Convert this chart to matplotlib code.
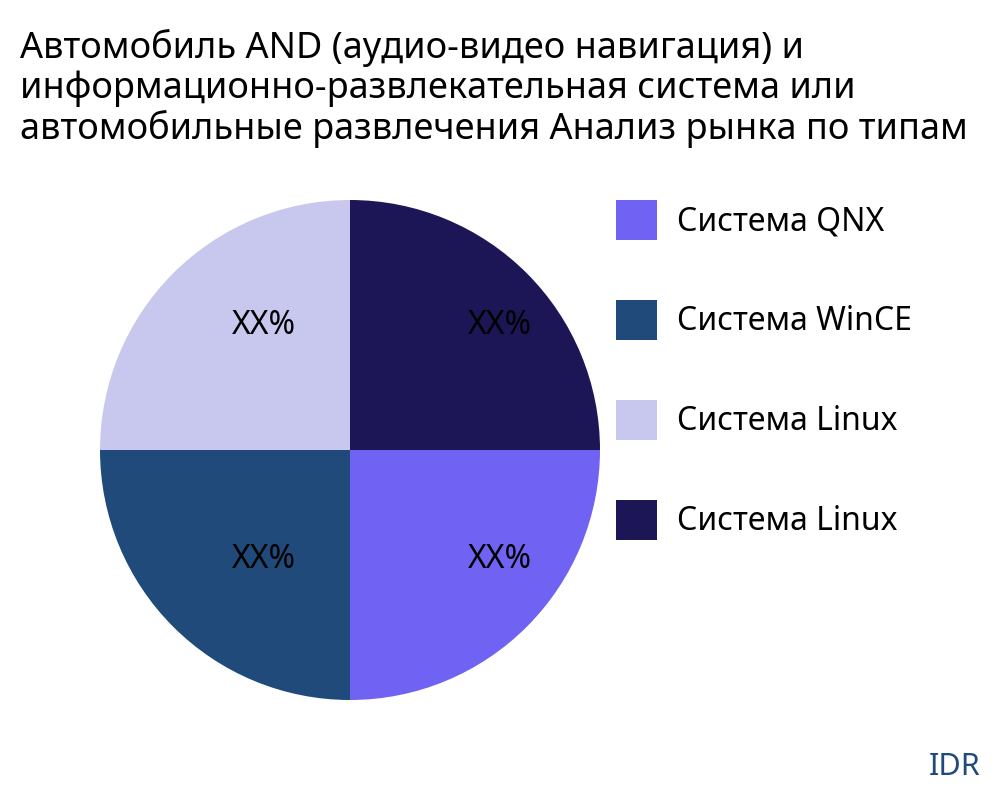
import matplotlib
matplotlib.use("Agg")
import matplotlib.pyplot as plt

# chart data
categories = ["Система QNX", "Система WinCE", "Система Linux", "Система Linux"]
shares = [25, 25, 25, 25]
colors = ["#7063F3", "#1F4A7A", "#C8C8EF", "#1C1656"]
pct_label = "XX%"
title = ("Автомобиль AND (аудио-видео навигация) и\n"
         "информационно-развлекательная система или\n"
         "автомобильные развлечения Анализ рынка по типам")

plt.rcParams['font.family'] = ['Noto Sans', 'DejaVu Sans']

fig = plt.figure(figsize=(10, 8), dpi=100)
fig.patch.set_facecolor("white")

# pie axes: centre (350, 450) px, radius 250 px
ax = fig.add_axes([0.1, 0.125, 0.5, 0.625])
wedges, texts, autotexts = ax.pie(
    shares, colors=colors, startangle=0, counterclock=False,
    autopct=lambda p: pct_label, pctdistance=0.6, radius=1.0,
    textprops={"fontsize": 23, "color": "black"},
)
ax.set_xlim(-1, 1)
ax.set_ylim(-1, 1)
ax.set_aspect("equal")

# move percentage labels to where the reference puts them
for t in autotexts:
    x, y = t.get_position()
    new_x = 0.6 if x > 0 else -0.345
    new_y = 0.5 if y > 0 else -0.436
    t.set_position((new_x, new_y))
    t.set_ha("center")
    t.set_va("center")

fig.text(0.02, 0.964, title, fontsize=26, va="top", ha="left",
         linespacing=1.12, color="black")

fig.legend(wedges, categories, loc="upper left", bbox_to_anchor=(0.616, 0.75),
           frameon=False, fontsize=23, handlelength=1.29, handleheight=1.55,
           labelspacing=1.875, handletextpad=0.63, borderpad=0, borderaxespad=0)

fig.text(0.98, 0.022, "IDR", fontsize=22, color="#1F4A7A", ha="right", va="bottom")

fig.savefig("out.png", dpi=100)
